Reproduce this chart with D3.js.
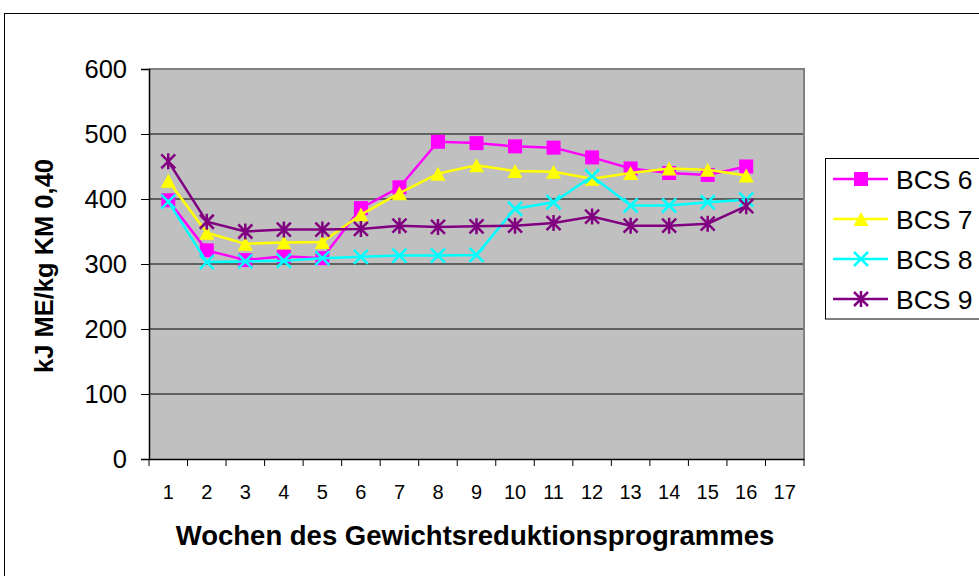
<!DOCTYPE html>
<html><head><meta charset="utf-8">
<script src="https://cdn.jsdelivr.net/npm/d3@7"></script>
<style>body{margin:0;background:#fff}svg{display:block;font-family:Arial,"Liberation Sans",sans-serif}</style>
</head><body>
<svg id="c" width="979" height="576"></svg>
<script>
const weeks = ["1","2","3","4","5","6","7","8","9","10","11","12","13","14","15","16","17"];
const yTicks = [0,100,200,300,400,500,600];
const seriesNames = ["BCS 6","BCS 7","BCS 8","BCS 9"];
const bcs6 = [398,321,306,312,309,386,418,488,486,481,479,464,447,440,437,450];
const bcs7 = [428,348,331,333,334,376,409,439,452,443,442,431,440,447,445,436];
const bcs8 = [396,303,304,305,309,311,313,313,314,385,395,435,390,390,395,399];
const bcs9 = [458,365,350,353,353,354,359,357,358,359,363,373,359,359,362,389];
const colors = ["#FF00FF","#FFFF00","#00FFFF","#800080"];
const markers = ["square","triangle","x","star"];
const seriesData = [bcs6,bcs7,bcs8,bcs9];

const svg = d3.select("#c");
const L=149,R=804,T=69,B=459;

// chart border
svg.append("rect").attr("x",4.5).attr("y",13.5).attr("width",1100).attr("height",700)
  .attr("fill","#fff").attr("stroke","#000").attr("stroke-width",1);

const x = d3.scaleBand().domain(weeks).range([L,R]).padding(0);
const y = d3.scaleLinear().domain([0,600]).range([B,T]);

// plot area
svg.append("rect").attr("x",L).attr("y",T).attr("width",R-L).attr("height",B-T).attr("fill","#C0C0C0");
// gridlines
svg.append("g").selectAll("line").data(yTicks.filter(d=>d>0&&d<600)).join("line")
  .attr("x1",L).attr("x2",R).attr("y1",d=>y(d)).attr("y2",d=>y(d))
  .attr("stroke","#000").attr("stroke-width",1);
// plot border top/right gray
svg.append("path").attr("d",`M${L},${T}H${R}V${B}`).attr("fill","none").attr("stroke","#808080").attr("stroke-width",2);

// y axis
const yAxis = svg.append("g").attr("transform",`translate(${L},0)`)
  .call(d3.axisLeft(y).tickValues(yTicks).tickSize(8).tickPadding(14));
yAxis.select(".domain").attr("stroke","#000").attr("stroke-width",1.5);
yAxis.selectAll(".tick line").attr("stroke","#000");
yAxis.selectAll("text").attr("font-size",25.5).attr("fill","#000").attr("font-family","Arial, 'Liberation Sans', sans-serif");

// x axis
const xAxis = svg.append("g").attr("transform",`translate(0,${B})`)
  .call(d3.axisBottom(x).tickSize(0).tickPadding(26));
xAxis.select(".domain").attr("stroke","#000").attr("stroke-width",1.5);
xAxis.selectAll("text").attr("font-size",20).attr("fill","#000").attr("font-family","Arial, 'Liberation Sans', sans-serif");
// x tick marks at category boundaries
const bounds = weeks.map(w=>x(w)).concat([R]);
svg.append("g").selectAll("line").data(bounds).join("line")
  .attr("x1",d=>d).attr("x2",d=>d).attr("y1",B).attr("y2",B+7).attr("stroke","#000").attr("stroke-width",1);

// axis titles
svg.append("text").attr("x",475).attr("y",545).attr("text-anchor","middle")
  .attr("font-size",27.5).attr("font-weight","bold").text("Wochen des Gewichtsreduktionsprogrammes");
svg.append("text").attr("transform","translate(53,266) rotate(-90)").attr("text-anchor","middle")
  .attr("font-size",25.5).attr("font-weight","bold").text("kJ ME/kg KM 0,40");

function drawMarker(g, type, color, cx, cy){
  const s=7;
  if(type==="square"){
    g.append("rect").attr("x",cx-s).attr("y",cy-s).attr("width",2*s).attr("height",2*s).attr("fill",color);
  } else if(type==="triangle"){
    g.append("path").attr("d",`M${cx},${cy-s}L${cx+s+0.5},${cy+s}L${cx-s-0.5},${cy+s}Z`).attr("fill",color);
  } else if(type==="x"){
    g.append("path").attr("d",`M${cx-s},${cy-s}L${cx+s},${cy+s}M${cx-s},${cy+s}L${cx+s},${cy-s}`)
      .attr("stroke",color).attr("stroke-width",2.5).attr("fill","none");
  } else {
    g.append("path").attr("d",`M${cx-s},${cy-s}L${cx+s},${cy+s}M${cx-s},${cy+s}L${cx+s},${cy-s}M${cx},${cy-s-1}L${cx},${cy+s+1}`)
      .attr("stroke",color).attr("stroke-width",2.5).attr("fill","none");
  }
}

const line = d3.line().x((d,i)=>x(weeks[i])+x.bandwidth()/2).y(d=>y(d));
seriesData.forEach((data,si)=>{
  const g = svg.append("g");
  g.append("path").attr("d",line(data)).attr("fill","none").attr("stroke",colors[si]).attr("stroke-width",2.5);
  data.forEach((v,i)=>drawMarker(g,markers[si],colors[si],x(weeks[i])+x.bandwidth()/2,y(v)));
});

// legend
const lg = svg.append("g");
lg.append("rect").attr("x",825.5).attr("y",158.5).attr("width",200).attr("height",160.5)
  .attr("fill","#fff").attr("stroke","#000").attr("stroke-width",1);
seriesNames.forEach((n,i)=>{
  const cy = 179 + i*40;
  lg.append("line").attr("x1",833).attr("x2",888).attr("y1",cy).attr("y2",cy).attr("stroke",colors[i]).attr("stroke-width",2.5);
  drawMarker(lg,markers[i],colors[i],861,cy);
  lg.append("text").attr("x",896).attr("y",cy+9.5).attr("font-size",26.5).text(n);
});
</script>
</body></html>
